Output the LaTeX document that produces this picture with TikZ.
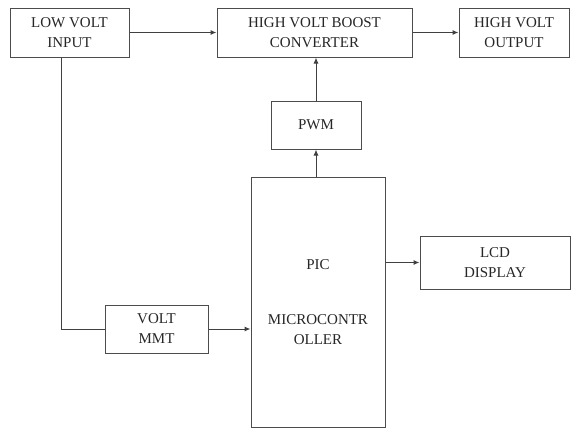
\documentclass[tikz,border=0pt]{standalone}
\usepackage{fontspec}
\setmainfont{Liberation Serif}
\usetikzlibrary{arrows.meta}
\newcommand{\blk}      {\fontsize{15}{20}\selectfont}

\begin{document}
\begin{tikzpicture}[x=1pt,y=-1pt,
   blockbox/.style={draw=black!70,line width=1pt,text=black!85,align=center,
                    inner sep=0pt,font=\blk},
   link/.style={draw=black!75,line width=1pt,-{Latex[length=6pt,width=5pt]}}]
   \useasboundingbox (0,0) rectangle (571,429);
   \node[blockbox,minimum width=119pt,minimum height=49pt] (lowin) at (69.5,32.5) {LOW VOLT\\INPUT};
   \node[blockbox,minimum width=195pt,minimum height=49pt] (boost) at (314.5,32.5) {HIGH VOLT BOOST\\CONVERTER};
   \node[blockbox,minimum width=110pt,minimum height=49pt] (hvout) at (514,32.5) {HIGH VOLT\\OUTPUT};
   \node[blockbox,minimum width=90pt,minimum height=48pt] (pwm) at (316,125) {PWM};
   \node[blockbox,minimum width=134pt,minimum height=250pt] (pic) at (318,302) {PIC\\[35pt]MICROCONTR\\OLLER};
   \node[blockbox,minimum width=150pt,minimum height=53pt] (lcd) at (495,262.5) {LCD\\DISPLAY};
   \node[blockbox,minimum width=103pt,minimum height=48pt] (vmmt) at (156.5,329) {VOLT\\MMT};
   \draw[link] (lowin.east) -- (boost.west);
   \draw[link] (boost.east) -- (hvout.west);
   \draw[link] (pwm.north) -- (pwm.north |- boost.south);
   \draw[link] (pwm.south |- pic.north) -- (pwm.south);
   \draw[link] (pic.east |- lcd.west) -- (lcd.west);
   \draw[draw=black!75,line width=1pt] ([xshift=-8.5pt]lowin.south) |- (vmmt.west);
   \draw[link] (vmmt.east) -- (vmmt.east -| pic.west);
  \end{tikzpicture}
\end{document}
